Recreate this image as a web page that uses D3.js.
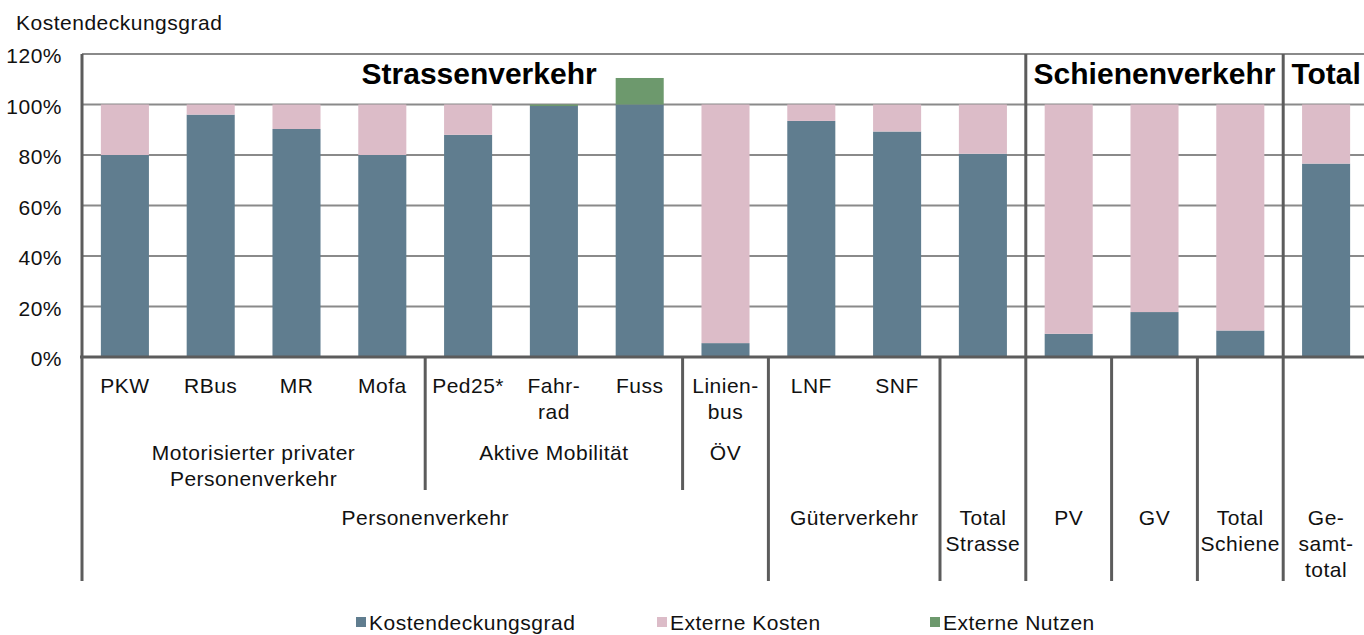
<!DOCTYPE html>
<html lang="de">
<head>
  <meta charset="UTF-8">
  <title>Kostendeckungsgrad</title>
  <script src="https://d3js.org/d3.v7.min.js"></script>
  <style>
    body { margin: 0; background: #fff; }
    svg { display: block; font-family: "Liberation Sans", Arial, sans-serif; }
    .lbl { letter-spacing: 0.5px; }
  </style>
</head>
<body>
  <svg width="1364" height="635"></svg>

  <script>
    // categories (innermost level)
    const categories = ["PKW", "RBus", "MR", "Mofa", "Ped25*", "Fahrrad", "Fuss", "Linienbus",
      "LNF", "SNF", "Total Strasse", "PV", "GV", "Total Schiene", "Gesamttotal"];
    const catLines = [["PKW"], ["RBus"], ["MR"], ["Mofa"], ["Ped25*"], ["Fahr-", "rad"], ["Fuss"],
      ["Linien-", "bus"], ["LNF"], ["SNF"], [], [], [], [], []];

    // series, share of costs (1 = 100%)
    const kostendeckung = [0.80, 0.96, 0.903, 0.80, 0.88, 0.994, 1.00, 0.055, 0.935, 0.893, 0.805, 0.092, 0.178, 0.105, 0.766];
    const externeKosten = [0.20, 0.04, 0.097, 0.20, 0.12, 0.00, 0.00, 0.945, 0.065, 0.107, 0.195, 0.908, 0.822, 0.895, 0.234];
    const externeNutzen = [0, 0, 0, 0, 0, 0.006, 0.105, 0, 0, 0, 0, 0, 0, 0, 0];

    // grouping levels: [label lines, first index, last index]
    const level2 = [
      [["Motorisierter privater", "Personenverkehr"], 0, 3],
      [["Aktive Mobilität"], 4, 6],
      [["ÖV"], 7, 7]
    ];
    const level3 = [
      [["Personenverkehr"], 0, 7],
      [["Güterverkehr"], 8, 9],
      [["Total", "Strasse"], 10, 10],
      [["PV"], 11, 11],
      [["GV"], 12, 12],
      [["Total", "Schiene"], 13, 13],
      [["Ge-", "samt-", "total"], 14, 14]
    ];
    const headers = [
      ["Strassenverkehr", 0, 10],
      ["Schienenverkehr", 11, 13],
      ["Total", 14, 14]
    ];

    const yTicks = [0, 0.2, 0.4, 0.6, 0.8, 1.0, 1.2];
    const seriesNames = ["Kostendeckungsgrad", "Externe Kosten", "Externe Nutzen"];
    const colors = ["#607d8f", "#dcbcc8", "#6d996d"];

    let svg = d3.select("svg");
    let plotLeft = 82, plotTop = 54, plotBottom = 357, step = 85.8;
    let lvl2Bottom = 490, lvl3Bottom = 581;

    let x = d3.scaleBand()
      .domain(d3.range(categories.length))
      .range([plotLeft, plotLeft + step * categories.length])
      .paddingInner(0.44)
      .paddingOuter(0.22);
    let edge = i => plotLeft + step * i;
    let mid = i => x(i) + x.bandwidth() / 2;

    let y = d3.scaleLinear().domain([0, 1.2]).range([plotBottom, plotTop]);

    // title
    svg.append("text")
      .attr("class", "lbl")
      .attr("x", 16).attr("y", 30)
      .attr("font-size", 21)
      .attr("fill", "#111")
      .text("Kostendeckungsgrad");

    // gridlines
    svg.append("g").selectAll("line")
      .data(yTicks.filter(d => d > 0))
      .join("line")
      .attr("x1", plotLeft).attr("x2", 1364)
      .attr("y1", d => y(d)).attr("y2", d => y(d))
      .attr("stroke", "#8a8a8a")
      .attr("stroke-width", 2);

    // y labels
    svg.append("g").selectAll("text")
      .data(yTicks)
      .join("text")
      .attr("class", "lbl")
      .attr("x", 62)
      .attr("y", d => y(d) + 9)
      .attr("text-anchor", "end")
      .attr("font-size", 21)
      .attr("fill", "#111")
      .text(d3.format(".0%"));

    // stacked bars
    let stacks = categories.map((c, i) => {
      let a = kostendeckung[i], b = externeKosten[i], g = externeNutzen[i];
      return [[0, a], [a, a + b], [a + b, a + b + g]];
    });
    seriesNames.forEach((s, k) => {
      svg.append("g").selectAll("rect")
        .data(stacks)
        .join("rect")
        .attr("x", (d, i) => x(i))
        .attr("width", x.bandwidth())
        .attr("y", d => y(d[k][1]))
        .attr("height", d => y(d[k][0]) - y(d[k][1]))
        .attr("fill", colors[k]);
    });

    // separators
    let seps = [];
    level3.forEach(g => { if (g[1] > 0) seps.push([g[1], plotBottom, lvl3Bottom]); });
    level2.forEach(g => {
      [g[1], g[2] + 1].forEach(b => {
        if (b > 0 && !seps.some(s => s[0] === b)) seps.push([b, plotBottom, lvl2Bottom]);
      });
    });
    headers.forEach(g => { if (g[1] > 0) seps.push([g[1], plotTop, plotBottom]); });
    seps.push([0, plotTop, lvl3Bottom]);

    svg.append("g").selectAll("line")
      .data(seps)
      .join("line")
      .attr("x1", d => edge(d[0])).attr("x2", d => edge(d[0]))
      .attr("y1", d => d[1]).attr("y2", d => d[2])
      .attr("stroke", "#5c5c5c")
      .attr("stroke-width", 3);

    // zero axis
    svg.append("line")
      .attr("x1", plotLeft - 2).attr("x2", 1364)
      .attr("y1", y(0)).attr("y2", y(0))
      .attr("stroke", "#5c5c5c")
      .attr("stroke-width", 3);

    // headers
    let headerX = [mid(4) + 11, (edge(11) + edge(14)) / 2, mid(14)];
    svg.append("g").selectAll("text")
      .data(headers)
      .join("text")
      .attr("x", (d, i) => headerX[i])
      .attr("y", 84)
      .attr("text-anchor", "middle")
      .attr("font-size", 30)
      .attr("font-weight", "bold")
      .attr("fill", "#000")
      .text(d => d[0]);

    // multi-level category labels
    function multiText(g, lines, cx, y0) {
      g.append("text")
        .attr("class", "lbl")
        .attr("text-anchor", "middle")
        .attr("font-size", 21)
        .attr("fill", "#111")
        .selectAll("tspan")
        .data(lines)
        .join("tspan")
        .attr("x", cx)
        .attr("y", (d, j) => y0 + j * 26)
        .text(d => d);
    }
    let labels = svg.append("g");
    catLines.forEach((lines, i) => multiText(labels, lines, mid(i), 393));
    level2.forEach(g => multiText(labels, g[0], (edge(g[1]) + edge(g[2] + 1)) / 2, 460));
    level3.forEach(g => multiText(labels, g[0], (edge(g[1]) + edge(g[2] + 1)) / 2, 525));

    // legend
    let legendX = [356, 657, 930];
    let legend = svg.append("g").selectAll("g")
      .data(seriesNames)
      .join("g")
      .attr("transform", (d, i) => `translate(${legendX[i]},623)`);
    legend.append("rect")
      .attr("x", 0).attr("y", -6)
      .attr("width", 10).attr("height", 10)
      .attr("fill", (d, i) => colors[i]);
    legend.append("text")
      .attr("class", "lbl")
      .attr("x", 13).attr("y", 7)
      .attr("font-size", 21)
      .attr("fill", "#111")
      .text(d => d);
  </script>
</body>
</html>
